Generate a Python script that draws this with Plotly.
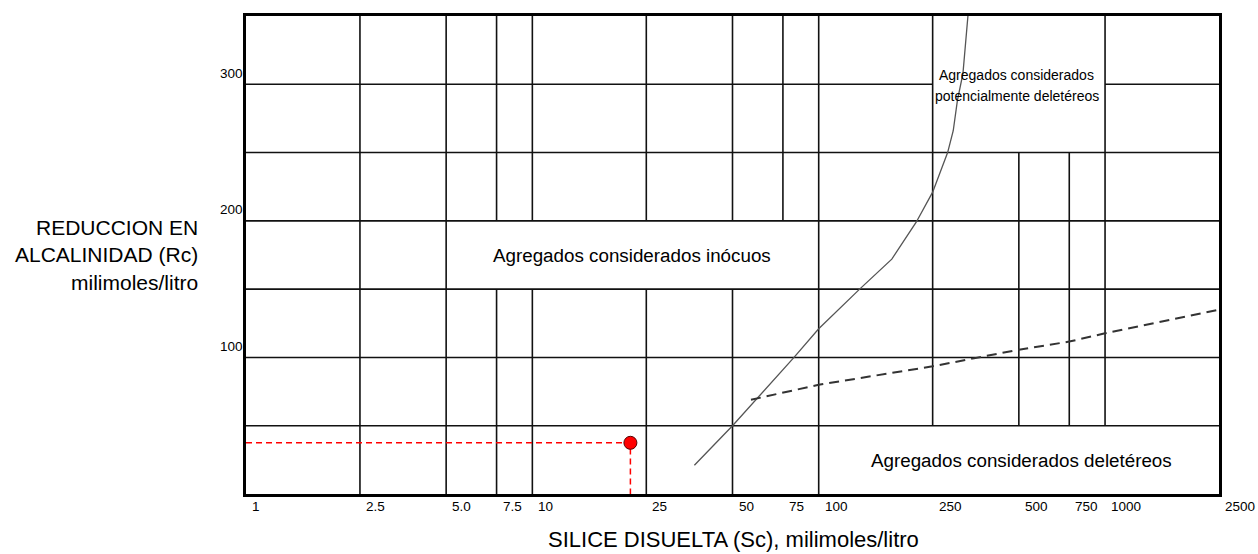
import numpy as np
import plotly.graph_objects as go

# ---- data ----
x_tick_vals = [1, 2.5, 5, 7.5, 10, 25, 50, 75, 100, 250, 500, 750, 1000, 2500]
x_tick_text = ["1", "2.5", "5.0", "7.5", "10", "25", "50", "75", "100", "250", "500", "750", "1000", "2500"]
y_tick_vals = [100, 200, 300]
y_tick_text = ["100", "200", "300"]

# grid structure: horizontal (y, x0, x1) and vertical (x, y0, y1) segments
h_grid = [(50, 1, 2500), (100, 1, 2500), (150, 1, 2500), (200, 1, 2500),
          (250, 1, 2500), (300, 1, 250), (300, 1000, 2500)]
v_grid = [(2.5, 0, 350), (5, 0, 350),
          (7.5, 0, 150), (7.5, 200, 350),
          (10, 0, 150), (10, 200, 350),
          (25, 0, 150), (25, 200, 350),
          (50, 0, 150), (50, 200, 350),
          (75, 200, 350), (100, 0, 350),
          (250, 50, 350), (500, 50, 250), (750, 50, 250), (1000, 50, 350)]

# solid limit curve
curve_x = [36.8, 50, 82, 100, 139, 180, 219, 242, 250, 282, 295, 305, 319, 332]
curve_y = [21, 50, 100, 121, 150, 172, 199, 215, 221, 250, 266, 288, 308, 350]

# dashed limit curve
dash_x = [58, 100, 250, 500, 750, 1000, 2500]
dash_y = [69, 80, 93.5, 105.7, 111.6, 117.7, 135]

# sample point
sample_x = [22]
sample_y = [37.5]

XMIN, XMAX = 1, 2500
YMIN, YMAX = 0, 350

fig = go.Figure()

# grid segments as line traces
gx, gy = [], []
for y, x0, x1 in h_grid:
    gx += [x0, x1, None]
    gy += [y, y, None]
for x, y0, y1 in v_grid:
    gx += [x, x, None]
    gy += [y0, y1, None]
fig.add_trace(go.Scatter(x=gx, y=gy, mode="lines",
                         line=dict(color="#111111", width=1.6),
                         hoverinfo="skip", showlegend=False))

fig.add_trace(go.Scatter(x=curve_x, y=curve_y, mode="lines",
                         line=dict(color="#555555", width=1.3),
                         showlegend=False))
fig.add_trace(go.Scatter(x=dash_x, y=dash_y, mode="lines",
                         line=dict(color="#333333", width=2, dash="10px,6px"),
                         showlegend=False))

# red guide lines to the sample point
fig.add_trace(go.Scatter(x=[XMIN, sample_x[0], sample_x[0]],
                         y=[sample_y[0], sample_y[0], YMIN],
                         mode="lines",
                         line=dict(color="#ff0000", width=1.5, dash="6px,4px"),
                         showlegend=False))
fig.add_trace(go.Scatter(x=sample_x, y=sample_y, mode="markers",
                         marker=dict(color="#ff0000", size=13,
                                     line=dict(color="#550000", width=1)),
                         showlegend=False))

FONT = "Liberation Sans, Arial, sans-serif"
ann = []
for v, t in zip(x_tick_vals, x_tick_text):
    ann.append(dict(x=np.log10(v), xref="x", y=0, yref="paper", text=t,
                    xanchor="left", yanchor="middle", xshift=4, yshift=-12,
                    showarrow=False, font=dict(family=FONT, size=13.5, color="black")))
for v, t in zip(y_tick_vals, y_tick_text):
    ann.append(dict(x=0, xref="paper", y=v, yref="y", text=t,
                    xanchor="right", yanchor="middle", xshift=-1, yshift=11,
                    showarrow=False, font=dict(family=FONT, size=13.5, color="black")))

ann.append(dict(x=-0.0473, xref="paper", y=0.5, yref="paper",
                text="REDUCCION EN<br>ALCALINIDAD (Rc)<br>milimoles/litro",
                align="right", xanchor="right", yanchor="middle", showarrow=False,
                font=dict(family=FONT, size=21, color="black")))
ann.append(dict(x=0.501, xref="paper", y=-0.095, yref="paper",
                text="SILICE DISUELTA (Sc), milimoles/litro",
                xanchor="center", yanchor="middle", showarrow=False,
                font=dict(family=FONT, size=22, color="black")))

ann.append(dict(x=np.log10(22.3), xref="x", y=175, yref="y",
                text="Agregados considerados inócuos",
                xanchor="center", yanchor="middle", showarrow=False,
                font=dict(family=FONT, size=18.8, color="black")))
ann.append(dict(x=np.log10(512), xref="x", y=24.4, yref="y",
                text="Agregados considerados deletéreos",
                xanchor="center", yanchor="middle", showarrow=False,
                font=dict(family=FONT, size=18.8, color="black")))
ann.append(dict(x=np.log10(492), xref="x", y=306.5, yref="y",
                text="Agregados considerados",
                xanchor="center", yanchor="middle", showarrow=False,
                font=dict(family=FONT, size=14, color="black")))
ann.append(dict(x=np.log10(492), xref="x", y=291.4, yref="y",
                text="potencialmente deletéreos",
                xanchor="center", yanchor="middle", showarrow=False,
                font=dict(family=FONT, size=14, color="black")))

fig.update_layout(
    width=1258, height=554,
    margin=dict(l=246, r=39, t=16, b=60),
    paper_bgcolor="white", plot_bgcolor="white",
    showlegend=False,
    annotations=ann,
    xaxis=dict(type="log", range=[np.log10(XMIN), np.log10(XMAX)],
               showgrid=False, zeroline=False, showticklabels=False, ticks="",
               showline=True, mirror=True, linewidth=3, linecolor="black"),
    yaxis=dict(range=[YMIN, YMAX],
               showgrid=False, zeroline=False, showticklabels=False, ticks="",
               showline=True, mirror=True, linewidth=3, linecolor="black"),
)

fig.write_html("out.html",
               config={"displayModeBar": False},
               post_script="document.body.style.margin='0px';document.body.style.overflow='hidden';")
